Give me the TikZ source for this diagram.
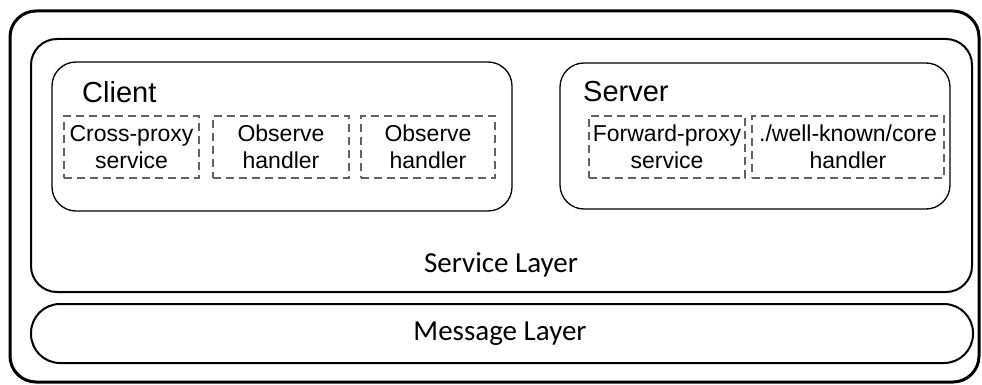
\documentclass[tikz,border=0pt]{standalone}
\usepackage{fontspec}
\setmainfont{Liberation Sans}
\newfontfamily\layerfont{Carlito}
\begin{document}
\begin{tikzpicture}[x=1pt,y=-1pt,
  layerbox/.style={draw, line width=2pt, inner sep=0pt},
  rolebox/.style={draw, line width=1.3pt, rounded corners=24pt, inner sep=0pt},
  handlerbox/.style={draw=black!62, dash pattern=on 8pt off 5pt, line width=1.2pt,
    inner sep=0pt, align=center, font=\fontsize{23}{27}\selectfont},
  rolelabel/.style={anchor=base west, inner sep=0pt, font=\fontsize{29}{33}\selectfont},
  layerlabel/.style={anchor=base, inner sep=0pt, font=\layerfont\fontsize{29}{33}\selectfont}]
\useasboundingbox (0,0) rectangle (982,385);

% outer frame and the two layers
\node[draw, line width=3pt, rounded corners=26pt, minimum width=969pt, minimum height=371pt, inner sep=0pt]
  (frame) at (494.5,196.5) {};
\node[layerbox, rounded corners=26pt, minimum width=941pt, minimum height=253pt]
  (service) at (501.5,165.5) {};
\node[layerbox, rounded corners=29pt, minimum width=942pt, minimum height=59pt]
  (message) at (502,333.5) {};

% client and server blocks
\node[rolebox, minimum width=460pt, minimum height=149pt] (client) at (282,136.5) {};
\node[rolebox, minimum width=390pt, minimum height=146pt] (server) at (755,136) {};

\node[rolelabel] (clientlbl) at (82,103) {Client};
\node[rolelabel] (serverlbl) at (583,102) {Server};

% handlers inside the client
\node[handlerbox, minimum width=135pt, minimum height=62pt] (cross) at (131.5,147) {Cross-proxy\\service};
\node[handlerbox, minimum width=136pt, minimum height=62pt] (obs1) at (281,147) {Observe\\handler};
\node[handlerbox, minimum width=134pt, minimum height=62pt] (obs2) at (428,147) {Observe\\handler};

% handlers inside the server
\node[handlerbox, minimum width=156pt, minimum height=62pt] (fwd) at (667,147) {Forward-proxy\\service};
\node[handlerbox, minimum width=192pt, minimum height=62pt] (core) at (848,147) {./well-known/core\\handler};

% layer captions
\node[layerlabel] (servicelbl) at (501,272) {Service Layer};
\node[layerlabel] (messagelbl) at (500,340) {Message Layer};
\end{tikzpicture}
\end{document}
